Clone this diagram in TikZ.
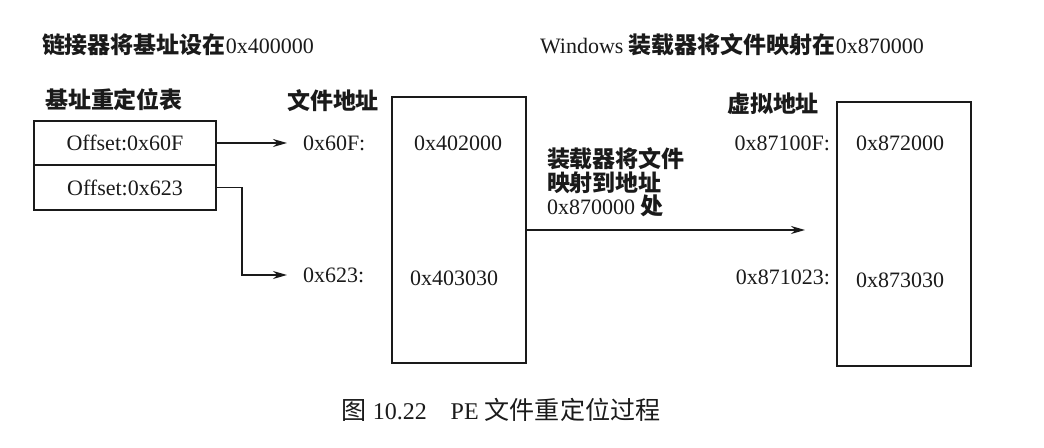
\documentclass[tikz,border=0pt]{standalone}
\usepackage{fontspec}
\setmainfont{Liberation Serif}
\newfontfamily\cjk[Scale=1.045]{Noto Sans CJK SC}
\usepackage{tikz}
\usetikzlibrary{arrows.meta}
\definecolor{ink}{HTML}{1A1A1A}
\newcommand{\hei}[1]{{\cjk\bfseries #1}}
\newcommand{\song}[1]{{\cjk #1}}

\begin{document}
\begin{tikzpicture}[x=0.5pt,y=-0.5pt,font=\fontsize{11}{13}\selectfont,
  every node/.style={text=ink,inner sep=0pt,outer sep=0pt},
  cell/.style={draw=ink,line width=0.9pt,minimum width=91pt},
  mem/.style={draw=ink,line width=0.9pt,minimum width=67pt},
  arr/.style={draw=ink,line width=0.9pt,-{Stealth[length=7pt,width=4pt]}}]
  \useasboundingbox (0,0) rectangle (1044,448);
  \node[anchor=west] (linkttl) at (42,45) {\hei{链接器将基址设在}0x400000};
  \node[anchor=west] (loadttl) at (540,45) {Windows \hei{装载器将文件映射在}0x870000};
  \node (reltbl) at (114,100) {\hei{基址重定位表}};
  \node[cell,minimum height=22pt] (off60f) at (125,143) {Offset:0x60F};
  \node[cell,minimum height=22.5pt] (off623) at (125,187.5) {Offset:0x623};
  \node (fileaddr) at (333,101) {\hei{文件地址}};
  \node[anchor=west] (a60f) at (303,143) {0x60F:};
  \node[anchor=west] (a623) at (303,275) {0x623:};
  \coordinate (k623) at (242,275);
  \draw[arr,shorten >=8pt] (off60f.east) -- (a60f.west);
  \draw[arr,shorten >=8pt] (off623.east) -| (k623) -- (a623.west);
  \node[mem,minimum height=133pt] (filebox) at (459,230) {};
  \node (f2000) at (458,143) {0x402000};
  \node (f3030) at (454,278) {0x403030};
  \node[anchor=north west,align=left,font=\fontsize{11}{11.75}\selectfont] (maptxt) at (547,148)
    {\hei{装载器将文件}\\\hei{映射到地址}\\0x870000 \hei{处}};
  \coordinate (mapend) at (805,230);
  \draw[arr] (filebox.east) -- (mapend);
  \node (virtaddr) at (773,104) {\hei{虚拟地址}};
  \node[mem,minimum height=132pt] (vbox) at (904,234) {};
  \node[anchor=east] (v100f) at (830,143) {0x87100F:};
  \node[anchor=east] (v1023) at (830,277) {0x871023:};
  \node (v2000) at (900,143) {0x872000};
  \node (v3030) at (900,280) {0x873030};
  \node[font=\fontsize{12}{14}\selectfont] (caption) at (501,410) {\song{图} 10.22\quad PE \song{文件重定位过程}};
\end{tikzpicture}
\end{document}
